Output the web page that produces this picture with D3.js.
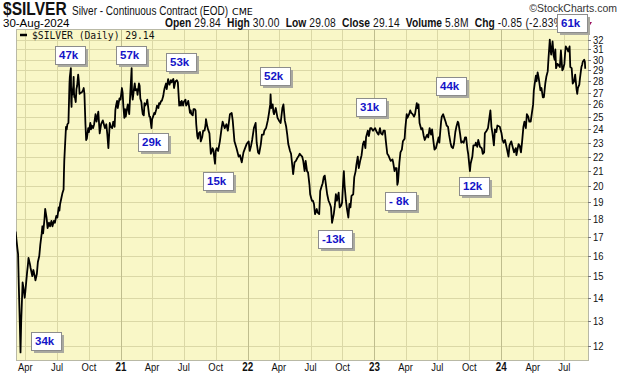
<!DOCTYPE html>
<html>
<head>
<meta charset="utf-8">
<script src="https://cdn.jsdelivr.net/npm/d3@7"></script>
<style>
  body { margin: 0; background: #fff; }
  svg { display: block; }
</style>
</head>
<body>
<svg width="620" height="376"></svg>
<script>
// daily closes, [MM-DD, close] per year
var silver2020 = [["03-04",17.3],["03-06",16.9],["03-09",16.4],["03-11",16.1],["03-13",14.6],["03-16",12.9],["03-18",11.75],["03-20",13.0],["03-24",14.7],["03-26",14.5],["03-30",14.0],["04-01",14.3],["04-06",15.2],["04-08",15.5],["04-10",15.9],["04-14",15.6],["04-16",15.4],["04-21",15.0],["04-24",15.3],["04-28",15.0],["04-30",14.8],["05-04",15.1],["05-07",15.7],["05-11",16.0],["05-14",16.6],["05-18",17.2],["05-20",17.6],["05-22",17.2],["05-26",18.0],["05-28",18.6],["06-01",18.1],["06-04",17.5],["06-08",17.8],["06-11",17.6],["06-15",17.9],["06-18",17.6],["06-22",17.9],["06-25",17.8],["06-29",18.2],["07-02",18.1],["07-06",18.7],["07-08",18.5],["07-10",18.9],["07-14",19.3],["07-17",19.6],["07-20",19.8],["07-21",20.8],["07-22",21.7],["07-24",22.7],["07-27",24.2],["07-29",24.0],["07-31",24.4],["08-03",24.5],["08-05",26.7],["08-06",27.8],["08-07",28.4],["08-10",29.2],["08-11",26.2],["08-12",25.8],["08-13",27.2],["08-14",26.8],["08-17",27.6],["08-18",28.4],["08-19",27.0],["08-20",26.6],["08-21",26.7],["08-24",26.2],["08-26",27.3],["08-28",27.6],["08-31",28.6],["09-02",28.0],["09-04",26.9],["09-08",27.0],["09-10",27.0],["09-14",27.2],["09-16",27.4],["09-18",26.9],["09-21",24.4],["09-23",23.2],["09-25",23.3],["09-29",24.1],["10-01",23.8],["10-05",24.5],["10-07",24.0],["10-09",24.3],["10-13",24.1],["10-16",24.4],["10-20",25.2],["10-23",24.6],["10-28",25.4],["11-01",23.7],["11-05",24.4],["11-10",24.7],["11-13",24.4],["11-16",24.1],["11-20",24.4],["11-23",23.6],["11-26",22.6],["11-30",24.5],["12-03",24.2],["12-07",24.1],["12-10",24.6],["12-14",24.2],["12-16",25.5],["12-18",25.9],["12-21",26.3],["12-23",25.7],["12-28",26.5],["12-31",26.4]];

var silver2021 = [["01-04",27.4],["01-06",27.0],["01-08",25.9],["01-11",24.9],["01-13",25.6],["01-15",25.0],["01-19",25.7],["01-21",26.0],["01-25",25.2],["01-27",26.3],["01-28",26.9],["02-01",29.2],["02-02",26.9],["02-04",26.4],["02-08",27.4],["02-10",27.8],["02-12",27.2],["02-16",27.3],["02-18",26.8],["02-22",27.8],["02-24",27.6],["02-26",26.5],["03-01",26.2],["03-03",25.6],["03-05",25.2],["03-08",25.1],["03-10",26.1],["03-12",25.9],["03-16",26.1],["03-18",26.4],["03-22",25.4],["03-24",25.0],["03-26",25.0],["03-30",24.1],["04-01",24.8],["04-05",25.1],["04-07",25.3],["04-09",25.2],["04-13",25.6],["04-15",25.9],["04-19",25.7],["04-21",26.1],["04-23",26.0],["04-27",26.3],["04-29",26.3],["05-03",26.7],["05-05",27.1],["05-07",27.4],["05-11",27.8],["05-13",27.3],["05-17",28.2],["05-19",27.9],["05-21",27.7],["05-25",28.1],["05-27",27.9],["06-01",28.2],["06-03",27.4],["06-07",28.0],["06-09",28.0],["06-11",28.1],["06-14",27.9],["06-16",26.9],["06-18",25.9],["06-21",26.2],["06-23",25.9],["06-25",26.3],["06-29",25.9],["07-01",26.2],["07-06",26.4],["07-08",25.9],["07-12",26.1],["07-14",26.3],["07-16",25.9],["07-19",25.3],["07-21",25.5],["07-23",25.2],["07-27",25.1],["07-29",25.6],["08-02",25.6],["08-04",25.5],["08-06",24.4],["08-09",23.5],["08-11",23.3],["08-13",23.7],["08-17",23.8],["08-19",23.1],["08-23",23.4],["08-26",23.9],["08-30",23.9],["09-02",24.4],["09-03",24.8],["09-07",24.2],["09-09",24.0],["09-13",23.7],["09-15",22.9],["09-17",22.2],["09-22",22.6],["09-24",22.5],["09-29",21.5],["10-01",22.4],["10-04",22.6],["10-08",22.4],["10-13",23.1],["10-18",24.1],["10-21",24.6],["10-27",24.1],["11-01",24.4],["11-05",23.9],["11-11",25.2],["11-16",25.3],["11-19",24.7],["11-24",23.1],["11-30",22.6],["12-02",22.4],["12-06",22.0],["12-10",22.1],["12-15",21.6],["12-20",22.3],["12-23",22.5],["12-29",22.9]];

var silver2022 = [["01-04",23.1],["01-07",22.4],["01-11",22.8],["01-14",23.2],["01-19",24.1],["01-24",24.5],["01-27",23.0],["01-31",22.3],["02-03",22.2],["02-08",22.9],["02-11",23.6],["02-16",23.6],["02-18",23.9],["02-23",24.1],["02-28",24.7],["03-03",25.2],["03-07",26.0],["03-08",26.85],["03-10",25.7],["03-14",26.0],["03-16",25.4],["03-18",25.2],["03-23",25.7],["03-28",24.9],["04-01",24.7],["04-06",24.5],["04-11",25.7],["04-14",26.0],["04-18",24.7],["04-22",24.2],["04-25",23.6],["04-28",22.9],["05-03",22.4],["05-06",22.2],["05-09",21.5],["05-12",20.8],["05-16",21.6],["05-20",21.7],["05-24",21.9],["05-27",22.0],["05-31",22.2],["06-03",22.1],["06-07",22.0],["06-10",21.7],["06-14",21.0],["06-17",21.7],["06-21",21.0],["06-24",20.9],["06-28",20.1],["06-30",19.5],["07-05",19.1],["07-08",19.1],["07-11",18.9],["07-14",18.3],["07-19",18.6],["07-21",18.4],["07-26",18.3],["07-29",19.7],["08-02",20.0],["08-05",20.2],["08-08",20.6],["08-11",20.7],["08-15",20.0],["08-18",19.5],["08-22",19.1],["08-26",18.9],["08-29",18.7],["09-01",17.8],["09-06",18.3],["09-09",18.8],["09-12",19.5],["09-15",19.1],["09-20",19.6],["09-23",18.7],["09-27",18.8],["09-30",19.0],["10-03",20.3],["10-05",21.0],["10-07",20.1],["10-11",19.1],["10-14",18.6],["10-18",18.1],["10-21",18.9],["10-24",18.7],["10-27",19.4],["11-01",19.5],["11-04",20.6],["11-08",21.0],["11-10",21.4],["11-14",22.0],["11-17",21.2],["11-21",21.7],["11-25",22.1],["11-29",22.9],["12-02",23.1],["12-06",22.6],["12-08",23.4],["12-13",23.9],["12-16",23.5],["12-20",24.1],["12-23",24.1],["12-28",23.9]];

var silver2023 = [["01-03",24.1],["01-06",23.9],["01-10",23.7],["01-13",23.6],["01-17",24.1],["01-20",23.7],["01-24",23.6],["01-27",23.9],["01-31",23.9],["02-03",23.1],["02-07",22.2],["02-10",22.1],["02-15",21.8],["02-17",21.7],["02-22",21.8],["02-24",21.6],["02-28",21.0],["03-02",21.2],["03-06",21.2],["03-08",20.1],["03-10",20.3],["03-14",21.6],["03-17",22.3],["03-21",22.5],["03-24",23.1],["03-29",23.3],["03-31",24.1],["04-04",25.2],["04-06",24.9],["04-11",25.2],["04-14",25.5],["04-17",25.3],["04-21",25.2],["04-25",25.0],["04-28",25.2],["05-03",26.1],["05-05",25.7],["05-08",26.0],["05-11",24.5],["05-16",24.0],["05-19",24.1],["05-23",23.5],["05-26",23.2],["05-31",23.5],["06-02",23.6],["06-05",23.4],["06-09",24.1],["06-13",23.6],["06-16",24.0],["06-20",23.1],["06-23",22.5],["06-27",22.6],["06-30",22.9],["07-05",23.4],["07-07",23.0],["07-12",24.6],["07-14",25.0],["07-18",25.2],["07-20",25.0],["07-25",24.6],["07-28",24.3],["08-01",24.2],["08-04",23.6],["08-08",23.0],["08-11",22.7],["08-15",22.6],["08-18",22.9],["08-22",23.8],["08-25",24.2],["08-29",24.6],["08-31",24.5],["09-05",23.6],["09-08",23.0],["09-12",23.1],["09-15",23.0],["09-19",23.4],["09-22",23.4],["09-26",22.5],["09-28",22.2],["10-03",21.0],["10-05",21.5],["10-10",22.0],["10-13",22.8],["10-18",22.8],["10-20",23.0],["10-24",22.7],["10-27",23.2],["11-01",22.7],["11-06",22.6],["11-09",22.2],["11-13",22.3],["11-15",23.7],["11-20",23.9],["11-24",24.1],["11-28",24.9],["12-01",25.5],["12-04",24.2],["12-07",23.7],["12-11",22.8],["12-14",24.0],["12-18",23.8],["12-21",24.3],["12-28",24.2]];

var silver2024 = [["01-02",23.7],["01-05",23.2],["01-08",23.0],["01-12",23.2],["01-17",22.6],["01-22",22.0],["01-25",22.8],["01-30",23.1],["02-02",22.8],["02-07",22.3],["02-12",22.6],["02-14",22.1],["02-20",22.9],["02-23",22.8],["02-27",22.3],["03-01",23.0],["03-05",24.2],["03-08",24.6],["03-12",24.1],["03-15",25.2],["03-19",25.0],["03-22",24.6],["03-26",24.6],["03-28",25.0],["04-02",26.0],["04-04",27.2],["04-08",28.1],["04-10",28.5],["04-12",28.0],["04-15",28.8],["04-18",28.3],["04-23",27.2],["04-26",27.4],["04-30",26.6],["05-03",26.6],["05-07",27.8],["05-10",28.4],["05-14",28.9],["05-16",30.0],["05-20",32.0],["05-22",31.0],["05-24",30.5],["05-28",31.8],["05-31",30.4],["06-03",30.0],["06-05",31.0],["06-07",29.2],["06-11",29.6],["06-14",29.5],["06-18",29.3],["06-21",30.9],["06-25",29.0],["06-27",29.1],["07-01",29.6],["07-03",30.6],["07-05",31.3],["07-10",31.0],["07-12",30.8],["07-16",31.3],["07-18",29.3],["07-22",29.2],["07-25",27.8],["07-29",28.0],["08-01",28.6],["08-05",27.3],["08-07",26.9],["08-09",27.4],["08-13",27.7],["08-15",28.3],["08-19",29.3],["08-21",29.5],["08-23",29.8],["08-27",30.0],["08-29",29.8],["08-30",29.14]];

var yearSeries = [[2020, silver2020], [2021, silver2021], [2022, silver2022], [2023, silver2023], [2024, silver2024]];

var yTicks = [12, 13, 14, 15, 16, 17, 18, 19, 20, 21, 22, 23, 24, 25, 26, 27, 28, 29, 30, 31, 32];
var monthNames = ["Jan", "Feb", "Mar", "Apr", "May", "Jun", "Jul", "Aug", "Sep", "Oct", "Nov", "Dec"];

// volume notes in the little boxes: label, date of left edge, price of top edge
var boxLabels = ["34k", "47k", "57k", "53k", "29k", "15k", "52k", "-13k", "31k", "- 8k", "44k", "12k", "61k"];
var boxDates = ["2020-04-17", "2020-06-25", "2020-12-18", "2021-05-11", "2021-02-19", "2021-08-25", "2022-02-05", "2022-07-22", "2022-11-09", "2023-01-31", "2023-06-27", "2023-09-03", "2024-06-09"];
var boxTops = [12.55, 31.3, 31.3, 30.7, 23.7, 20.95, 29.3, 17.4, 26.5, 19.66, 28.4, 20.6, 34.7];

var headerStats = [["Open", "29.84"], ["High", "30.00"], ["Low", "29.08"], ["Close", "29.14"], ["Volume", "5.8M"], ["Chg", "-0.85 (-2.83%)"]];
var lastClose = "29.14";

function drawChart() {
  var svg = d3.select("svg"),
      plotL = 16, plotR = 588, plotT = 29, plotB = 360;

  var parse = d3.timeParse("%Y-%m-%d");

  var data = [];
  yearSeries.forEach(function (yr) {
    yr[1].forEach(function (d) {
      data.push({ date: parse(yr[0] + "-" + d[0]), close: d[1] });
    });
  });

  var x = d3.scaleTime().domain([parse("2020-03-05"), parse("2024-09-07")]).range([plotL, plotR]);
  var y = d3.scaleLog().domain([11.47, 33.1]).range([plotB, plotT]);

  // Liberation Sans squeezed, as a stand-in for the narrow font of the original
  function narrowText(px, py, str, size, weight, anchor) {
    var g = svg.append("g").attr("transform", "translate(" + px + "," + py + ") scale(0.82,1)");
    return g.append("text")
      .attr("font-family", "'Liberation Sans', Arial, sans-serif")
      .attr("font-size", size)
      .attr("font-weight", weight || "normal")
      .attr("text-anchor", anchor || "start")
      .attr("fill", "#111")
      .text(str);
  }

  // plot background
  svg.append("rect")
    .attr("x", plotL).attr("y", plotT)
    .attr("width", plotR - plotL).attr("height", plotB - plotT)
    .attr("fill", "#f9f7c7");

  // horizontal grid
  svg.append("g").selectAll("line")
    .data(yTicks)
    .enter().append("line")
    .attr("x1", plotL).attr("x2", plotR)
    .attr("y1", function (d) { return Math.round(y(d)) + 0.5; })
    .attr("y2", function (d) { return Math.round(y(d)) + 0.5; })
    .attr("stroke", "#dbd8a6");

  // vertical grid, every quarter
  var quarters = x.ticks(d3.timeMonth.every(3));
  svg.append("g").selectAll("line")
    .data(quarters)
    .enter().append("line")
    .attr("x1", function (d) { return Math.round(x(d)) + 0.5; })
    .attr("x2", function (d) { return Math.round(x(d)) + 0.5; })
    .attr("y1", plotT).attr("y2", plotB)
    .attr("stroke", function (d) { return d.getMonth() === 0 ? "#bfbd8e" : "#dbd8a6"; });

  // plot frame
  svg.append("rect")
    .attr("x", plotL + 0.5).attr("y", plotT + 0.5)
    .attr("width", plotR - plotL).attr("height", plotB - plotT)
    .attr("fill", "none")
    .attr("stroke", "#b9b9a6");

  // price line
  svg.append("clipPath").attr("id", "plotclip")
    .append("rect")
    .attr("x", plotL).attr("y", plotT)
    .attr("width", plotR - plotL).attr("height", plotB - plotT);

  var line = d3.line()
    .x(function (d) { return x(d.date); })
    .y(function (d) { return y(d.close); });

  svg.append("path")
    .datum(data)
    .attr("clip-path", "url(#plotclip)")
    .attr("d", line)
    .attr("fill", "none")
    .attr("stroke", "#000")
    .attr("stroke-width", 1.8)
    .attr("stroke-linejoin", "round");

  // right axis
  svg.append("g").selectAll("line")
    .data(yTicks)
    .enter().append("line")
    .attr("x1", plotR).attr("x2", plotR + 3)
    .attr("y1", function (d) { return Math.round(y(d)) + 0.5; })
    .attr("y2", function (d) { return Math.round(y(d)) + 0.5; })
    .attr("stroke", "#777");
  yTicks.forEach(function (d) {
    narrowText(plotR + 5, y(d) + 4, d, "11.5px");
  });

  // bottom axis labels
  quarters.forEach(function (d) {
    var isYear = d.getMonth() === 0;
    narrowText(x(d), 371, isYear ? d3.timeFormat("%y")(d) : monthNames[d.getMonth()],
      isYear ? "12px" : "11.5px", isYear ? "bold" : "normal", "middle");
  });

  // header
  narrowText(3, 15, "$SILVER", "19px", "bold");
  narrowText(72, 15, "Silver - Continuous Contract (EOD)", "12.2px");
  svg.append("text")
    .attr("x", 232).attr("y", 15)
    .attr("font-family", "'DejaVu Sans', sans-serif")
    .attr("font-size", "9.5px")
    .text("CME");
  svg.append("text")
    .attr("x", 617).attr("y", 12)
    .attr("text-anchor", "end")
    .attr("font-family", "'Liberation Sans', sans-serif")
    .attr("font-size", "10.5px")
    .attr("fill", "#333")
    .text("\u00a9StockCharts.com");
  svg.append("text")
    .attr("x", 3).attr("y", 27)
    .attr("font-family", "'Liberation Sans', sans-serif")
    .attr("font-size", "11.5px")
    .text("30-Aug-2024");

  var hx = 165;
  headerStats.forEach(function (s) {
    var w = narrowText(hx, 27, s[0], "12.5px", "bold");
    hx += w.node().getComputedTextLength() * 0.82 + 3;
    var v = narrowText(hx, 27, s[1], "12.5px");
    v.attr("letter-spacing", "0.3px");
    hx += v.node().getComputedTextLength() * 0.82 + 6;
  });

  // little down arrow after the change
  svg.append("path")
    .attr("d", "M586,22 L592,22 L589,27 Z")
    .attr("fill", "#9a1060");

  // legend
  svg.append("line")
    .attr("x1", 20).attr("x2", 27)
    .attr("y1", 35).attr("y2", 35)
    .attr("stroke", "#000")
    .attr("stroke-width", 2.5);
  svg.append("text")
    .attr("x", 32).attr("y", 39)
    .attr("font-family", "'DejaVu Sans Mono', monospace")
    .attr("font-size", "9.7px")
    .attr("fill", "#111")
    .text("$SILVER (Daily) " + lastClose);

  // volume boxes
  boxLabels.forEach(function (label, i) {
    var bx = Math.round(x(parse(boxDates[i]))),
        by = Math.round(y(boxTops[i]));
    var g = svg.append("g").attr("transform", "translate(" + bx + "," + by + ")");
    var shadow = g.append("rect").attr("fill", "#a9a9a0");
    var box = g.append("rect").attr("fill", "#fff").attr("stroke", "#8c8c8c");
    var t = g.append("text")
      .attr("x", 4).attr("y", 13)
      .attr("font-family", "'Liberation Sans', Arial, sans-serif")
      .attr("font-size", "11.5px")
      .attr("font-weight", "bold")
      .attr("fill", "#1414c8")
      .text(label);
    var w = Math.round(t.node().getComputedTextLength()) + 11;
    shadow.attr("x", 3).attr("y", 3).attr("width", w).attr("height", 18);
    box.attr("x", 0.5).attr("y", 0.5).attr("width", w).attr("height", 18);
  });
}

drawChart();
</script>
</body>
</html>
